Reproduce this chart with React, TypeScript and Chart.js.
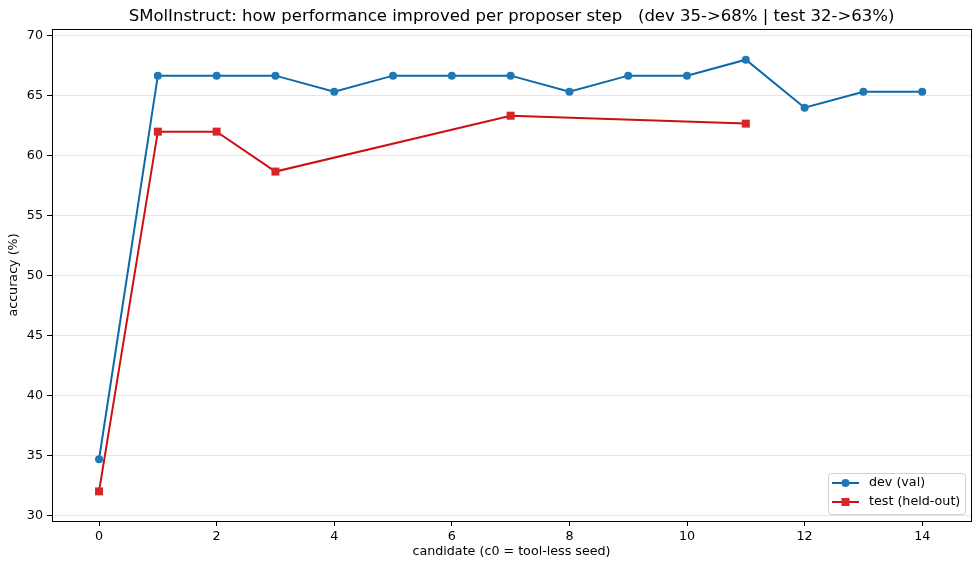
import React, { useEffect, useRef } from "react";
import { Chart, registerables } from "chart.js";

Chart.register(...registerables);

const TITLE = "SMolInstruct: how performance improved per proposer step   (dev 35->68% | test 32->63%)";
const X_LABEL = "candidate (c0 = tool-less seed)";
const Y_LABEL = "accuracy (%)";

const devSteps = [0, 1, 2, 3, 4, 5, 6, 7, 8, 9, 10, 11, 12, 13, 14];
const devAcc = [34.67, 66.67, 66.67, 66.67, 65.33, 66.67, 66.67, 66.67, 65.33, 66.67, 66.67, 68.0, 64.0, 65.33, 65.33];

const testSteps = [0, 1, 2, 3, 7, 11];
const testAcc = [32.0, 62.0, 62.0, 58.67, 63.33, 62.67];

const xTicks = [0, 2, 4, 6, 8, 10, 12, 14];
const yTicks = [30, 35, 40, 45, 50, 55, 60, 65, 70];

const FONT = "'DejaVu Sans', sans-serif";
const LABEL_SIZE = 12.7;

const DEV_LINE = "#0b68aa";
const DEV_MARK = "#1f77b4";
const TEST_LINE = "#cc1016";
const TEST_MARK = "#d62728";

// Draws the full box frame around the plot, the axis titles and the legend.
const framePlugin = {
  id: "frame",
  afterDraw(chart: any) {
    const { ctx, chartArea: a } = chart;
    ctx.save();
    ctx.strokeStyle = "#000";
    ctx.lineWidth = 1;
    ctx.strokeRect(Math.round(a.left) + 0.5, Math.round(a.top) + 0.5, Math.round(a.right - a.left), Math.round(a.bottom - a.top));

    ctx.fillStyle = "#000";
    ctx.font = `${LABEL_SIZE}px ${FONT}`;
    ctx.textAlign = "center";
    ctx.textBaseline = "middle";
    ctx.fillText(X_LABEL, (a.left + a.right) / 2, 552);
    ctx.save();
    ctx.translate(14, (a.top + a.bottom) / 2);
    ctx.rotate(-Math.PI / 2);
    ctx.fillText(Y_LABEL, 0, 0);
    ctx.restore();

    // legend box
    const bx = 828, by = 473, bw = 137, bh = 41;
    ctx.fillStyle = "rgba(255,255,255,0.8)";
    ctx.strokeStyle = "#d0d0d0";
    ctx.beginPath();
    ctx.roundRect(bx + 0.5, by + 0.5, bw, bh, 3);
    ctx.fill();
    ctx.stroke();

    const rows = [
      { label: "dev (val)", line: DEV_LINE, mark: DEV_MARK, shape: "circle", y: 483 },
      { label: "test (held-out)", line: TEST_LINE, mark: TEST_MARK, shape: "rect", y: 502 },
    ];
    for (const r of rows) {
      ctx.strokeStyle = r.line;
      ctx.lineWidth = 2;
      ctx.beginPath();
      ctx.moveTo(832, r.y);
      ctx.lineTo(859, r.y);
      ctx.stroke();
      ctx.fillStyle = r.mark;
      ctx.beginPath();
      if (r.shape === "circle") {
        ctx.arc(845.5, r.y, 4, 0, Math.PI * 2);
      } else {
        ctx.rect(841.5, r.y - 4, 8, 8);
      }
      ctx.fill();
      ctx.fillStyle = "#000";
      ctx.textAlign = "left";
      ctx.fillText(r.label, 869, r.y);
    }
    ctx.restore();
  },
};

export default function App() {
  const ref = useRef<HTMLCanvasElement | null>(null);

  useEffect(() => {
    if (!ref.current) return;
    const chart = new Chart(ref.current, {
      type: "line",
      data: {
        datasets: [
          {
            label: "dev (val)",
            data: devSteps.map((x, i) => ({ x, y: devAcc[i] })),
            borderColor: DEV_LINE,
            backgroundColor: DEV_MARK,
            pointBackgroundColor: DEV_MARK,
            pointBorderColor: DEV_MARK,
            pointBorderWidth: 0,
            pointStyle: "circle",
            pointRadius: 4,
            borderWidth: 2,
            tension: 0,
          },
          {
            label: "test (held-out)",
            data: testSteps.map((x, i) => ({ x, y: testAcc[i] })),
            borderColor: TEST_LINE,
            backgroundColor: TEST_MARK,
            pointBackgroundColor: TEST_MARK,
            pointBorderColor: TEST_MARK,
            pointBorderWidth: 0,
            pointStyle: "rect",
            pointRadius: 5.66,
            borderWidth: 2,
            tension: 0,
          },
        ],
      },
      options: {
        animation: false,
        responsive: false,
        layout: { padding: { left: 0, right: 9, top: 0, bottom: 0 } },
        plugins: {
          legend: { display: false },
          tooltip: { enabled: false },
          title: {
            display: true,
            text: TITLE,
            color: "#000",
            fullSize: false,
            font: { family: FONT, size: 16.5, weight: "normal", lineHeight: 1.2 },
            padding: { top: 6.5, bottom: 2.7 },
          },
        },
        scales: {
          x: {
            type: "linear",
            min: -0.8,
            max: 14.83,
            afterBuildTicks: (s: any) => {
              s.ticks = xTicks.map((v) => ({ value: v }));
            },
            afterFit: (s: any) => {
              s.height = 48;
            },
            grid: { drawOnChartArea: false, tickLength: 5, tickColor: "#000", color: "#000" },
            border: { display: false },
            ticks: { color: "#000", font: { family: FONT, size: LABEL_SIZE }, padding: 3, maxRotation: 0, callback: (v: any) => String(v) },
          },
          y: {
            type: "linear",
            min: 29.53,
            max: 70.56,
            afterBuildTicks: (s: any) => {
              s.ticks = yTicks.map((v) => ({ value: v }));
            },
            afterFit: (s: any) => {
              s.width = 52;
            },
            grid: { drawOnChartArea: true, tickLength: 5, tickColor: "#000", color: "#e6e6e6", lineWidth: 1 },
            border: { display: false },
            ticks: { color: "#000", font: { family: FONT, size: LABEL_SIZE }, padding: 4, callback: (v: any) => String(v) },
          },
        },
      },
      plugins: [framePlugin],
    });
    return () => chart.destroy();
  }, []);

  return (
    <div style={{ position: "absolute", left: 0, top: 0, width: 980, height: 569, background: "#fff" }}>
      <canvas ref={ref} width={980} height={569} />
    </div>
  );
}
